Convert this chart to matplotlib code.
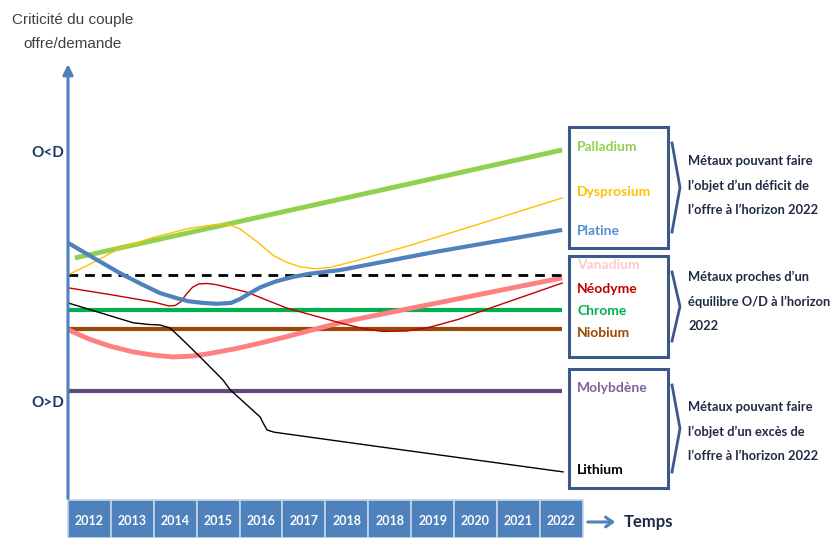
import matplotlib
matplotlib.use('Agg')
import matplotlib.pyplot as plt
from matplotlib.patches import Rectangle

plt.rcParams['font.family'] = ['Lato', 'DejaVu Sans']

# x in tile units (0 = left edge of the 2012 tile), y = criticality (arbitrary scale)
years = ['2012', '2013', '2014', '2015', '2016', '2017', '2018', '2018', '2019', '2020', '2021', '2022']

palladium_x = [0.16, 11.52]
palladium_y = [56.0, 81.0]

dysprosium_x = [0, 0.6, 1.2, 2.0, 2.8, 3.4, 3.7, 4.0, 4.4, 4.8, 5.1, 5.4, 5.75, 6.1, 6.34, 6.8, 8.0, 9.5, 11.52]
dysprosium_y = [52.1, 55.0, 58.2, 60.8, 62.8, 63.7, 63.9, 62.8, 59.8, 56.5, 55.0, 54.0, 53.5, 53.8, 54.4, 55.6, 59.0, 63.6, 69.9]

platine_x = [0, 0.6, 1.21, 1.7, 2.14, 2.5, 2.8, 3.15, 3.47, 3.8, 4.01, 4.25, 4.48, 4.85, 5.24, 5.6, 6.0, 6.34, 8.5, 11.52]
platine_y = [59.5, 56.0, 52.5, 50.0, 47.9, 46.8, 46.0, 45.6, 45.4, 45.6, 46.5, 47.9, 49.2, 50.6, 51.6, 52.3, 52.8, 53.2, 57.3, 62.5]

seuil_x = [0, 11.52]
seuil_y = [52.1, 52.1]

neodyme_x = [0, 1.0, 2.0, 2.35, 2.5, 2.62, 2.75, 2.9, 3.05, 3.25, 3.47, 4.17, 5.10, 6.34, 6.9, 7.34, 7.9, 8.44, 9.1, 9.84, 11.52]
neodyme_y = [49.1, 47.5, 45.8, 44.9, 45.0, 45.8, 47.5, 49.2, 50.0, 50.1, 49.8, 48.1, 44.4, 41.0, 39.6, 39.0, 39.1, 40.0, 41.8, 44.4, 50.2]

chrome_x = [0, 11.52]
chrome_y = [44.0, 44.0]

niobium_x = [0, 11.52]
niobium_y = [39.6, 39.6]

vanadium_x = [0, 0.5, 0.98, 1.5, 2.0, 2.45, 2.9, 3.31, 3.9, 4.48, 5.1, 5.71, 6.34, 6.81, 11.52]
vanadium_y = [39.4, 37.2, 35.6, 34.3, 33.5, 33.1, 33.3, 33.9, 35.0, 36.3, 37.8, 39.4, 41.0, 42.0, 51.4]

molybdene_x = [0, 11.52]
molybdene_y = [25.2, 25.2]

lithium_x = [0, 1.52, 1.9, 2.14, 2.38, 2.7, 3.08, 3.61, 3.78, 4.48, 4.55, 4.64, 4.8, 4.94, 7.27, 11.54]
lithium_y = [45.6, 41.0, 40.6, 40.5, 39.8, 36.8, 33.1, 27.8, 25.5, 19.2, 17.8, 16.2, 15.7, 15.5, 12.3, 6.5]

fig = plt.figure(figsize=(8.35, 5.38), dpi=100)

# main axes covers the whole figure, data limits set so the chart sits where it should
ax = fig.add_axes([0, 0, 1, 1])
ax.set_xlim(-1.585, 17.88)
ax.set_ylim(-8.8, 115.7)
ax.axis('off')

blue = '#4F81BD'

# year tiles under the chart
for i, yr in enumerate(years):
    ax.add_patch(Rectangle((i, -8.8), 1, 8.8, facecolor=blue, edgecolor='#C5D5EA', lw=1.2, zorder=2))
    ax.text(i + 0.5, -4.9, yr, color='white', fontsize=9, fontweight='bold',
            ha='center', va='center', zorder=3)

# curves
ax.plot(molybdene_x, molybdene_y, color='#604A7B', lw=3, solid_capstyle='butt', zorder=4)
ax.plot(niobium_x, niobium_y, color='#984807', lw=3, solid_capstyle='butt', zorder=4)
ax.plot(chrome_x, chrome_y, color='#00B050', lw=3, solid_capstyle='butt', zorder=4)
ax.plot(vanadium_x, vanadium_y, color='#FF8080', lw=3.5, solid_capstyle='butt', zorder=5)
ax.plot(lithium_x, lithium_y, color='black', lw=1.0, zorder=6)
ax.plot(neodyme_x, neodyme_y, color='#C00000', lw=1.0, zorder=6)
ax.plot(seuil_x, seuil_y, color='black', lw=2, linestyle=(0, (3.5, 2.5)), zorder=5)
ax.plot(palladium_x, palladium_y, color='#92D050', lw=3.5, solid_capstyle='butt', zorder=5)
ax.plot(dysprosium_x, dysprosium_y, color='#FFC000', lw=1.0, zorder=6)
ax.plot(platine_x, platine_y, color=blue, lw=3, solid_capstyle='butt', zorder=7)

# vertical axis with arrow
ax.annotate('', xy=(0, 101.5), xytext=(0, -0.3),
            arrowprops=dict(arrowstyle='-|>,head_length=0.6,head_width=0.3', color=blue, lw=2.2),
            zorder=8)

# overlay in pixel units for boxes and annotations
ann = fig.add_axes([0, 0, 1, 1])
ann.set_xlim(0, 835)
ann.set_ylim(538, 0)
ann.axis('off')

dark = '#1F2A44'
frame = '#3B5A8A'

ann.text(73, 20, 'Criticité du couple', ha='center', va='center', fontsize=11,
         color='#404040', family=['Liberation Sans', 'DejaVu Sans'])
ann.text(73, 44, 'offre/demande', ha='center', va='center', fontsize=11,
         color='#404040', family=['Liberation Sans', 'DejaVu Sans'])

ann.text(64, 153, 'O<D', ha='right', va='center', fontsize=11, fontweight='bold', color='#1F3864')
ann.text(64, 403, 'O>D', ha='right', va='center', fontsize=11, fontweight='bold', color='#1F3864')

# time arrow
ann.annotate('', xy=(618, 522), xytext=(585, 522),
             arrowprops=dict(arrowstyle='->,head_length=0.5,head_width=0.35', color=blue, lw=2.2))
ann.text(624, 522, 'Temps', ha='left', va='center', fontsize=12, fontweight='bold', color=dark)

boxes = [(127, 248), (256, 357), (369, 488)]
for top, bot in boxes:
    ann.add_patch(Rectangle((569, top), 99, bot - top, facecolor='white', edgecolor=frame, lw=2.2, zorder=3))
    mid = (top + bot) / 2
    ann.plot([672, 680, 672], [top + 16, mid, bot - 16], color=frame, lw=2, zorder=3)

labels = [('Palladium', 147, '#92D050'), ('Dysprosium', 192, '#FFC000'), ('Platine', 231, '#558ED5'),
          ('Vanadium', 265, '#FFC9C9'), ('Néodyme', 289, '#C00000'), ('Chrome', 311, '#00B050'),
          ('Niobium', 333, '#984807'), ('Molybdène', 388, '#7B6399'), ('Lithium', 470, 'black')]
for name, py, col in labels:
    ann.text(577, py, name, ha='left', va='center', fontsize=10, fontweight='bold', color=col, zorder=4)

groups = [(['Métaux pouvant faire', 'l\u2019objet d\u2019un déficit de', 'l\u2019offre à l\u2019horizon 2022'], 161),
          (['Métaux proches d\u2019un', 'équilibre O/D à l\u2019horizon', '2022'], 277),
          (['Métaux pouvant faire', 'l\u2019objet d\u2019un excès de', 'l\u2019offre à l\u2019horizon 2022'], 407)]
for lines, py0 in groups:
    for k, line in enumerate(lines):
        ann.text(688, py0 + k * 24.5, line, ha='left', va='center', fontsize=9.3,
                 fontweight='bold', color=dark)

fig.savefig('out.png', dpi=100)
